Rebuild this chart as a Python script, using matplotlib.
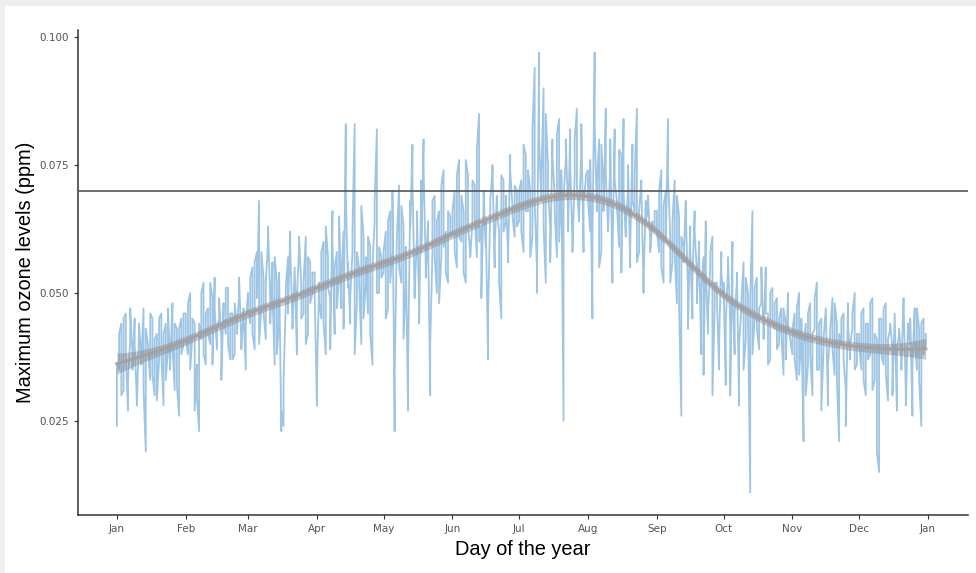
import numpy as np
import matplotlib.pyplot as plt
from matplotlib.patches import Rectangle

# daily maximum ozone, ppb, one list per month, two years
jan = [24, 35, 44, 31, 46, 27, 41, 38, 45, 29, 43, 36, 47, 19, 40, 33, 45, 30, 42, 37, 46, 28, 44, 39, 35, 48, 31, 43, 26, 45, 40]
feb = [46, 38, 50, 42, 44, 36, 23, 41, 52, 36, 47, 40, 49, 53, 39, 45, 41, 48, 42, 51, 37, 46, 38, 44, 50, 40, 47, 35]
mar = [50, 44, 55, 39, 58, 68, 47, 53, 41, 60, 49, 56, 36, 52, 45, 23, 24, 48, 57, 62, 44, 55, 38, 59, 51, 46, 61, 42, 56, 50, 54]
apr = [28, 52, 45, 60, 38, 57, 49, 66, 42, 58, 53, 47, 62, 83, 51, 44, 58, 83, 48, 55, 40, 61, 52, 46, 59, 36, 64, 82, 50, 57]
may = [54, 62, 47, 66, 58, 23, 60, 71, 52, 63, 52, 27, 68, 79, 49, 61, 48, 72, 80, 55, 64, 30, 58, 69, 50, 66, 57, 74, 62, 52, 65]
jun = [62, 70, 55, 76, 60, 66, 52, 73, 58, 64, 71, 57, 85, 63, 68, 59, 37, 66, 74, 55, 69, 62, 45, 72, 64, 58, 77, 67, 61, 70]
jul = [64, 72, 58, 77, 66, 70, 61, 94, 55, 97, 68, 90, 52, 75, 63, 80, 69, 57, 84, 71, 25, 76, 66, 82, 60, 73, 86, 64, 78, 58, 72]
aug = [74, 62, 45, 97, 66, 80, 58, 71, 86, 63, 75, 52, 82, 68, 59, 77, 84, 61, 70, 55, 79, 66, 86, 58, 72, 50, 68, 66, 60, 64, 62]
sep = [66, 58, 74, 52, 70, 84, 61, 56, 72, 48, 65, 26, 59, 68, 50, 63, 45, 66, 54, 60, 38, 57, 64, 42, 55, 61, 47, 52, 35, 58]
oct_ = [49, 32, 55, 44, 60, 38, 52, 28, 47, 56, 41, 50, 11, 66, 45, 53, 39, 48, 42, 55, 46, 37, 51, 43, 49, 40, 47, 34, 44, 50, 41]
nov = [38, 46, 33, 50, 41, 21, 44, 36, 48, 30, 43, 52, 35, 45, 39, 47, 28, 42, 49, 34, 44, 21, 40, 46, 31, 48, 37, 43, 50, 36]
dec = [42, 35, 47, 30, 44, 38, 49, 33, 41, 15, 45, 36, 48, 29, 43, 39, 46, 27, 42, 37, 49, 31, 44, 40, 26, 47, 35, 43, 24, 45, 40]

jan2 = [36, 42, 30, 45, 38, 33, 47, 35, 40, 28, 44, 37, 31, 43, 39, 46, 34, 41, 29, 45, 38, 42, 33, 47, 36, 40, 44, 32, 43, 38, 46]
feb2 = [41, 48, 35, 45, 27, 30, 44, 50, 38, 46, 42, 52, 36, 47, 43, 49, 33, 45, 51, 40, 46, 37, 48, 42, 53, 39, 46, 44]
mar2 = [47, 53, 42, 56, 49, 40, 58, 46, 52, 63, 44, 50, 57, 38, 54, 27, 33, 51, 46, 59, 43, 55, 49, 61, 45, 52, 40, 57, 48, 54, 50]
apr2 = [33, 48, 58, 44, 63, 51, 39, 60, 55, 47, 65, 53, 43, 70, 56, 49, 62, 38, 58, 52, 67, 45, 57, 61, 42, 55, 68, 50, 59, 53]
may2 = [58, 45, 64, 52, 70, 34, 61, 55, 67, 41, 59, 35, 63, 72, 50, 66, 44, 58, 75, 53, 62, 40, 68, 57, 64, 48, 71, 59, 54, 66, 61]
jun2 = [66, 58, 73, 61, 69, 54, 76, 63, 57, 72, 65, 78, 60, 49, 70, 64, 45, 68, 75, 59, 66, 52, 73, 62, 69, 56, 74, 65, 71, 63]
jul2 = [70, 62, 79, 66, 74, 57, 82, 68, 50, 80, 72, 63, 85, 70, 56, 77, 66, 81, 60, 74, 69, 80, 62, 75, 58, 80, 71, 65, 83, 68, 73]
aug2 = [68, 76, 60, 83, 71, 55, 79, 66, 73, 62, 80, 57, 72, 67, 78, 54, 70, 63, 75, 59, 68, 73, 56, 66, 71, 52, 64, 69, 58, 63, 66]
sep2 = [62, 70, 55, 67, 60, 73, 52, 64, 58, 69, 47, 61, 56, 66, 43, 59, 53, 62, 48, 57, 51, 34, 55, 46, 58, 30, 52, 49, 40, 54]
oct2 = [52, 44, 57, 30, 50, 46, 54, 40, 48, 35, 53, 45, 49, 38, 51, 43, 47, 55, 41, 46, 36, 50, 44, 48, 39, 45, 42, 47, 37, 44, 41]
nov2 = [43, 37, 47, 34, 45, 40, 30, 46, 38, 42, 49, 35, 44, 27, 41, 47, 36, 43, 39, 48, 33, 42, 45, 37, 24, 44, 40, 46, 35, 42]
dec2 = [40, 46, 33, 44, 37, 48, 31, 42, 19, 45, 38, 47, 34, 41, 44, 30, 46, 39, 43, 35, 48, 28, 42, 45, 36, 41, 47, 33, 44, 38, 42]

month_labels = ['Jan', 'Feb', 'Mar', 'Apr', 'May', 'Jun', 'Jul', 'Aug', 'Sep', 'Oct', 'Nov', 'Dec', 'Jan']
standard = 0.070

year1 = [jan, feb, mar, apr, may, jun, jul, aug, sep, oct_, nov, dec]
year2 = [jan2, feb2, mar2, apr2, may2, jun2, jul2, aug2, sep2, oct2, nov2, dec2]
y1 = np.concatenate([np.array(m, float) for m in year1]) / 1000.0
y2 = np.concatenate([np.array(m, float) for m in year2]) / 1000.0
ndays = len(y1)
month_starts = np.concatenate([[0], np.cumsum([len(m) for m in year1])])

# both years on one day-of-year axis, sorted by day
day = np.repeat(np.arange(ndays), 2).astype(float)
ozone = np.column_stack([y1, y2]).ravel()

# local linear smoother, band is +/- one standard error
bw = 17.0
grid = np.arange(ndays, dtype=float)
n = len(day)
fit = np.zeros(ndays)
L = np.zeros((ndays, n))
for i, d0 in enumerate(grid):
    w = np.exp(-0.5 * ((day - d0) / bw) ** 2)
    Xc = np.column_stack([np.ones(n), day - d0])
    A = Xc.T @ (Xc * w[:, None])
    row = np.linalg.solve(A, (Xc * w[:, None]).T)[0]
    L[i] = row
    fit[i] = row @ ozone
resid = ozone - np.interp(day, grid, fit)
sigma = np.sqrt(np.mean(resid ** 2))
se = sigma * np.sqrt(np.sum(L ** 2, axis=1))

fig = plt.figure(figsize=(9.76, 5.73), dpi=100, facecolor='#efeeec')
fig.add_artist(Rectangle((5 / 976, 0), 1, 1 - 6 / 573, transform=fig.transFigure,
                         facecolor='white', edgecolor='none', zorder=-10))
ax = fig.add_axes([78 / 976, 58 / 573, 890 / 976, 485 / 573])

ax.plot(day, ozone, color='#8dbbe0', lw=1.3, alpha=0.85, zorder=2)
ax.axhline(standard, color='#555555', lw=1.2, zorder=3)
ax.fill_between(grid, fit - se, fit + se, color='#808080', alpha=0.4, lw=0, zorder=4)
ax.plot(grid, fit, color='#a8a09e', lw=2.2, zorder=5)

ax.set_xlim(-17.5, 383)
ax.set_ylim(0.0066, 0.1014)
ax.set_xticks(month_starts)
ax.set_xticklabels(month_labels)
ax.set_yticks([0.025, 0.050, 0.075, 0.100])
ax.set_yticklabels(['0.025', '0.050', '0.075', '0.100'])
ax.tick_params(labelsize=7.5, colors='#333333', labelcolor='#555555', length=3, width=0.8)
for s in ['top', 'right']:
    ax.spines[s].set_visible(False)
for s in ['left', 'bottom']:
    ax.spines[s].set_color('#333333')
    ax.spines[s].set_linewidth(1.1)
ax.set_facecolor('none')

ax.set_xlabel('Day of the year', fontsize=14.4, family='Liberation Sans', labelpad=4)
ax.set_ylabel('Maximum ozone levels (ppm)', fontsize=14.4, family='Liberation Sans', labelpad=3)

fig.savefig('out.png', dpi=100, facecolor=fig.get_facecolor())
